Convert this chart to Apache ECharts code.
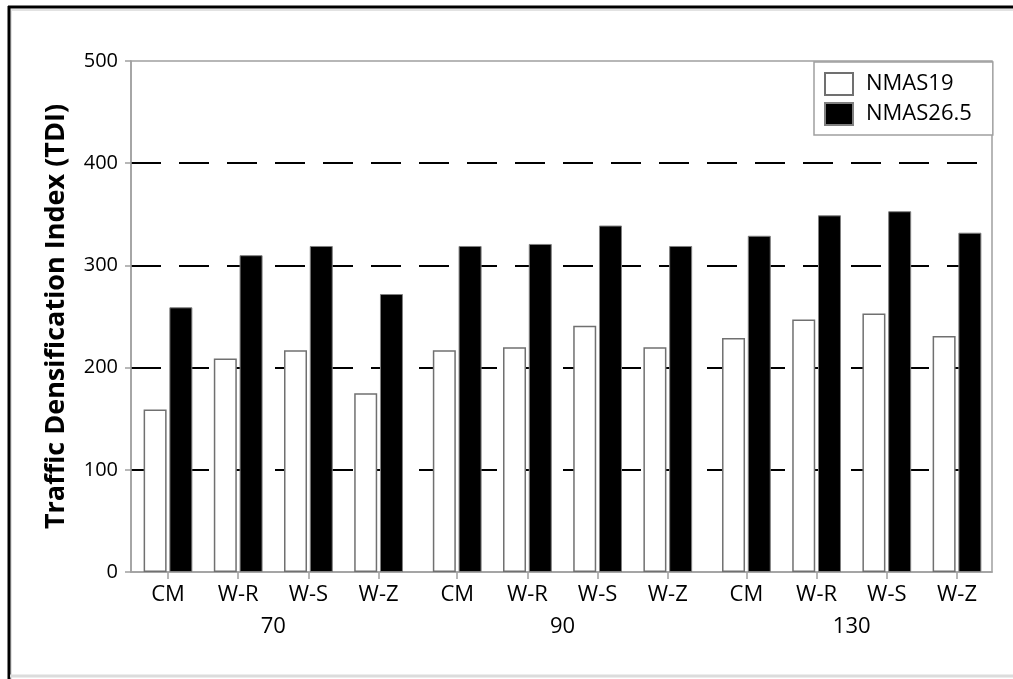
<!DOCTYPE html>
<html>
<head>
<meta charset="utf-8">
<script src="https://cdn.jsdelivr.net/npm/echarts@6/dist/echarts.min.js"></script>
<style>
html,body{margin:0;padding:0;background:#fff;}
#chart{width:1013px;height:679px;}
</style>
</head>
<body>
<div id="chart"></div>
<script>
// ---- data ----
const groups = ['70', '90', '130'];
const methods = ['CM', 'W-R', 'W-S', 'W-Z'];
const seriesNames = ['NMAS19', 'NMAS26.5'];
const nmas19 = [159, 209, 217, 175, 217, 220, 241, 220, 229, 247, 253, 231];
const nmas265 = [259, 310, 319, 272, 319, 321, 339, 319, 329, 349, 353, 332];
const yTicks = [0, 100, 200, 300, 400, 500];

// ---- layout helpers (category positions on a value axis, with a small gap between groups) ----
const groupExtra = 0.12;
const positions = [];
const catLabels = [];
groups.forEach((g, gi) => {
  methods.forEach((m, mi) => {
    positions.push(gi * (methods.length + groupExtra) + mi);
    catLabels.push(m);
  });
});
const groupCenters = groups.map((g, gi) => gi * (methods.length + groupExtra) + (methods.length - 1) / 2);
const xMin = -0.527;
const xMax = positions[positions.length - 1] + 0.4986;

function nearestIdx(arr, v) {
  let best = 0, bd = Infinity;
  arr.forEach((p, i) => { const d = Math.abs(p - v); if (d < bd) { bd = d; best = i; } });
  return best;
}

const FONT = '"Open Sans", "Noto Sans", sans-serif';
const AXIS_GRAY = '#a0a0a0';

const chart = echarts.init(document.getElementById('chart'), null, { renderer: 'canvas' });
chart.setOption({
  animation: false,
  backgroundColor: '#fff',
  textStyle: { fontFamily: FONT },
  grid: {
    left: 131, right: 21, top: 61, bottom: 107,
    show: true, borderColor: AXIS_GRAY, borderWidth: 1.5, backgroundColor: 'transparent'
  },
  legend: {
    orient: 'vertical',
    left: 814, top: 62,
    data: seriesNames,
    icon: 'rect',
    itemWidth: 28, itemHeight: 22, itemGap: 6,
    padding: [10, 21, 9, 10],
    backgroundColor: '#fff',
    borderColor: '#a0a0a0', borderWidth: 1.5, borderRadius: 0,
    textStyle: { fontFamily: FONT, fontSize: 22, color: '#000', padding: [0, 0, 0, 8] }
  },
  xAxis: [
    {
      type: 'value', min: xMin, max: xMax,
      axisLine: { show: true, onZero: false, lineStyle: { color: AXIS_GRAY, width: 1.5 } },
      axisTick: { show: true, customValues: positions, length: 7, lineStyle: { color: AXIS_GRAY, width: 1.5 } },
      axisLabel: {
        customValues: positions, margin: 12,
        fontFamily: FONT, fontSize: 22, color: '#000',
        formatter: (v) => catLabels[nearestIdx(positions, v)]
      },
      splitLine: { show: false }
    },
    {
      type: 'value', min: xMin, max: xMax, position: 'bottom',
      axisLine: { show: false, onZero: false }, axisTick: { show: false },
      axisLabel: {
        customValues: groupCenters, margin: 44,
        fontFamily: FONT, fontSize: 22, color: '#000',
        formatter: (v) => groups[nearestIdx(groupCenters, v)]
      },
      splitLine: { show: false }
    }
  ],
  yAxis: {
    type: 'value', min: yTicks[0], max: yTicks[yTicks.length - 1], interval: 100,
    name: 'Traffic Densification Index (TDI)',
    nameLocation: 'middle', nameGap: 61, nameRotate: 90,
    nameTextStyle: { fontFamily: FONT, fontSize: 27, fontWeight: 'bold', color: '#000' },
    axisLine: { show: true, onZero: false, lineStyle: { color: AXIS_GRAY, width: 1.5 } },
    axisTick: { show: true, length: 6, lineStyle: { color: AXIS_GRAY, width: 1.5 } },
    axisLabel: { margin: 13, fontFamily: FONT, fontSize: 20, color: '#000' },
    splitLine: {
      show: true,
      lineStyle: {
        color: ['rgba(0,0,0,0)', '#000', '#000', '#000', '#000', 'rgba(0,0,0,0)'],
        width: 2, type: [30, 18]
      }
    }
  },
  series: [
    {
      name: seriesNames[0], type: 'bar', xAxisIndex: 0,
      data: nmas19.map((v, i) => [positions[i], v]),
      barWidth: 23, barGap: '12%',
      itemStyle: { color: '#fff', borderColor: '#707070', borderWidth: 1.5 }
    },
    {
      name: seriesNames[1], type: 'bar', xAxisIndex: 0,
      data: nmas265.map((v, i) => [positions[i], v]),
      barWidth: 23, barGap: '12%',
      itemStyle: { color: '#000', borderColor: '#808080', borderWidth: 1 }
    }
  ],
  graphic: [
    { type: 'line', shape: { x1: 11, y1: 9, x2: 11, y2: 679 }, style: { stroke: '#e2e2e2', lineWidth: 2 }, silent: true },
    { type: 'line', shape: { x1: 10, y1: 10, x2: 1013, y2: 10 }, style: { stroke: '#e2e2e2', lineWidth: 2 }, silent: true },
    { type: 'line', shape: { x1: 9, y1: 6, x2: 9, y2: 679 }, style: { stroke: '#000', lineWidth: 3 }, silent: true },
    { type: 'line', shape: { x1: 8, y1: 7, x2: 1013, y2: 7 }, style: { stroke: '#000', lineWidth: 3 }, silent: true },
    { type: 'line', shape: { x1: 10, y1: 676, x2: 1013, y2: 676 }, style: { stroke: '#dcdcdc', lineWidth: 3 }, silent: true }
  ]
});
</script>
</body>
</html>
